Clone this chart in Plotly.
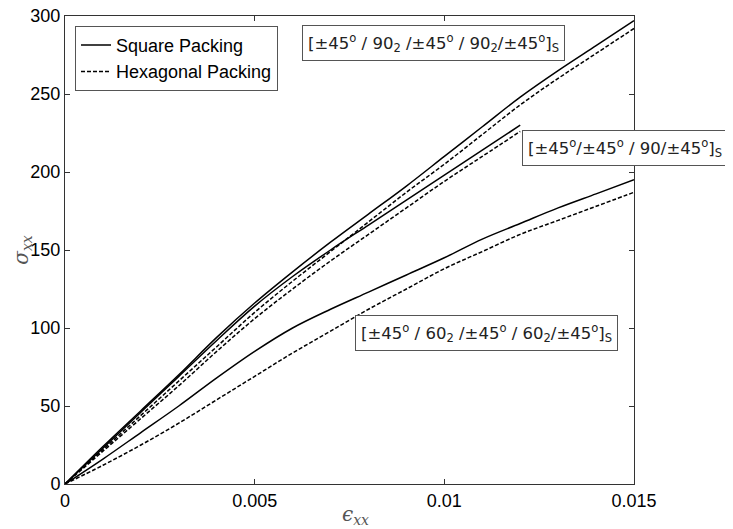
import plotly.graph_objects as go

# strain values (epsilon_xx)
strain_full = [0, 0.001, 0.002, 0.003, 0.004, 0.005, 0.006, 0.007, 0.008,
               0.009, 0.010, 0.011, 0.012, 0.013, 0.014, 0.015]
strain_short = [0, 0.001, 0.002, 0.003, 0.004, 0.005, 0.006, 0.007, 0.008,
                0.009, 0.010, 0.011, 0.012]

# [±45/90_2/±45/90_2/±45]s
a_square = [0, 24, 47, 70, 94, 116, 136, 155, 173, 191, 210, 229, 248, 265, 281, 297]
a_hex = [0, 22, 44, 66, 88, 110, 130, 149, 168, 187, 205, 224, 243, 260, 276, 292]

# [±45/±45/90/±45]s
b_square = [0, 23, 46, 69, 92, 114, 133, 150, 166, 182, 198, 214, 230]
b_hex = [0, 21, 42, 63, 85, 106, 125, 143, 160, 177, 194, 210, 226]

# [±45/60_2/±45/60_2/±45]s
c_square = [0, 16, 33, 50, 68, 85, 100, 112, 123, 134, 145, 157, 167, 177, 186, 195]
c_hex = [0, 12, 25, 39, 54, 69, 84, 98, 112, 125, 138, 149, 160, 169, 178, 187]

x_ticks = [0, 0.005, 0.01, 0.015]
x_tick_labels = ["0", "0.005", "0.01", "0.015"]
y_ticks = [0, 50, 100, 150, 200, 250, 300]

series = [
    (strain_full, a_square, "Square Packing", "solid", True),
    (strain_full, a_hex, "Hexagonal Packing", "4px,2px", True),
    (strain_short, b_square, "Square Packing", "solid", False),
    (strain_short, b_hex, "Hexagonal Packing", "4px,2px", False),
    (strain_full, c_square, "Square Packing", "solid", False),
    (strain_full, c_hex, "Hexagonal Packing", "4px,2px", False),
]

fig = go.Figure()
for xs, ys, name, dash, show in series:
    fig.add_trace(go.Scatter(
        x=xs, y=ys, mode="lines", name=name, legendgroup=name,
        showlegend=show,
        line=dict(color="black", width=1.5, dash=dash, shape="spline", smoothing=1.0),
    ))

axis_common = dict(
    showgrid=False, zeroline=False, showline=True, linecolor="#333",
    linewidth=1, mirror="ticks", ticks="inside", ticklen=5, tickcolor="#333",
    ticklabeloverflow="allow",
    tickfont=dict(family="Liberation Sans, Arial", size=18, color="black"),
)

fig.update_xaxes(range=[0, 0.015], tickvals=x_ticks, ticktext=x_tick_labels, **axis_common)
fig.update_yaxes(range=[0, 300], tickvals=y_ticks, **axis_common)

box = dict(bordercolor="#555", borderwidth=1, bgcolor="white", borderpad=5,
           font=dict(family="DejaVu Sans, Verdana", size=16.5, color="#222"),
           showarrow=False, xref="paper", yref="paper")

fig.add_annotation(
    text="[±45<sup>o</sup> / 90<sub>2</sub> /±45<sup>o</sup> / 90<sub>2</sub>/±45<sup>o</sup>]<sub>S</sub>",
    x=0.4165, y=0.981, xanchor="left", yanchor="top", **box)
fig.add_annotation(
    text="[±45<sup>o</sup>/±45<sup>o</sup> / 90/±45<sup>o</sup>]<sub>S</sub>",
    x=0.803, y=0.756, xanchor="left", yanchor="top", **box)
fig.add_annotation(
    text="[±45<sup>o</sup> / 60<sub>2</sub> /±45<sup>o</sup> / 60<sub>2</sub>/±45<sup>o</sup>]<sub>S</sub>",
    x=0.972, y=0.361, xanchor="right", yanchor="top", **box)

title_font = dict(family="DejaVu Serif", size=20, color="#555")
fig.add_annotation(text="<i>ϵ<sub>xx</sub></i>", x=0.51, y=-0.066, xref="paper", yref="paper",
                   showarrow=False, xanchor="center", yanchor="middle", font=title_font)
fig.add_annotation(text="<i>σ<sub>xx</sub></i>", x=-0.076, y=0.5, xref="paper", yref="paper",
                   showarrow=False, xanchor="center", yanchor="middle", textangle=-90,
                   font=title_font)

fig.update_layout(
    width=733, height=529,
    margin=dict(l=57, r=107, t=8, b=53, autoexpand=False),
    plot_bgcolor="white", paper_bgcolor="white",
    legend=dict(x=0.0176, y=0.979, xanchor="left", yanchor="top",
                bordercolor="#555", borderwidth=1, bgcolor="white",
                font=dict(family="Liberation Sans, Arial", size=18, color="black"),
                tracegroupgap=0, itemwidth=30),
    showlegend=True,
)

fig.write_html("out.html")
